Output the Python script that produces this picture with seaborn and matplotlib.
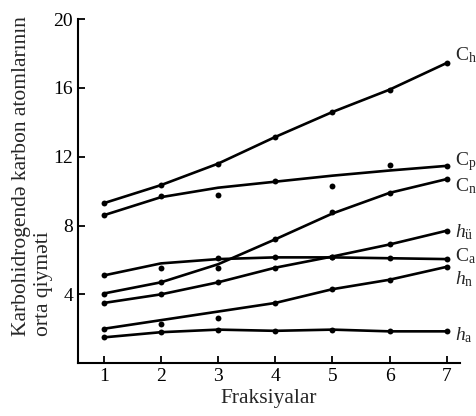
import numpy as np
import pandas as pd
import matplotlib
matplotlib.use("Agg")
import matplotlib.pyplot as plt
import seaborn as sns

# Data
fractions = [1, 2, 3, 4, 5, 6, 7]

# smoothed curves
ch_line = [9.3, 10.35, 11.6, 13.15, 14.6, 15.9, 17.45]
cp_line = [8.6, 9.65, 10.2, 10.55, 10.9, 11.2, 11.47]
cn_line = [4.05, 4.7, 5.75, 7.2, 8.7, 9.9, 10.7]
hu_line = [3.5, 4.0, 4.7, 5.55, 6.2, 6.9, 7.7]
ca_line = [5.1, 5.8, 6.05, 6.15, 6.15, 6.1, 6.05]
hn_line = [2.0, 2.5, 3.0, 3.5, 4.3, 4.85, 5.6]
ha_line = [1.5, 1.8, 1.95, 1.88, 1.95, 1.85, 1.85]

# measured points
ch_dots = [9.3, 10.35, 11.6, 13.15, 14.6, 15.9, 17.45]
cp_dots = [8.6, 9.7, 9.8, 10.6, 10.3, 11.5, 11.47]
cn_dots = [4.05, 4.74, 5.55, 7.2, 8.76, 9.9, 10.7]
hu_dots = [3.5, 4.0, 4.7, 5.55, 6.2, 6.9, 7.7]
ca_dots = [5.1, 5.55, 6.1, 6.15, 6.15, 6.1, 6.05]
hn_dots = [2.0, 2.3, 2.65, 3.5, 4.3, 4.85, 5.6]
ha_dots = [1.5, 1.8, 1.95, 1.88, 1.95, 1.85, 1.85]

names = ['C$_{\\mathrm{h}}$', 'C$_{\\mathrm{p}}$', 'C$_{\\mathrm{n}}$', '$h_{\\mathrm{ü}}$',
         'C$_{\\mathrm{a}}$', '$h_{\\mathrm{n}}$', '$h_{\\mathrm{a}}$']
lines = [ch_line, cp_line, cn_line, hu_line, ca_line, hn_line, ha_line]
dots = [ch_dots, cp_dots, cn_dots, hu_dots, ca_dots, hn_dots, ha_dots]

# label offsets in points (dx, dy) from the last point
label_offsets = [(6, 6), (6, 3), (6, -5), (6, -1), (6, 2), (6, -9), (6, -3)]

sns.set_style("ticks")
plt.rcParams['font.family'] = ['Liberation Serif', 'DejaVu Serif']
plt.rcParams['mathtext.fontset'] = 'custom'
plt.rcParams['mathtext.rm'] = 'Liberation Serif'
plt.rcParams['mathtext.it'] = 'Liberation Serif:italic'

fig = plt.figure(figsize=(4.76, 4.16), dpi=100)
ax = fig.add_axes([0.164, 0.127, 0.802, 0.827])

for name, ln, dt, off in zip(names, lines, dots, label_offsets):
    sns.lineplot(x=fractions, y=ln, color='black', linewidth=1.9, ax=ax)
    sns.scatterplot(x=fractions, y=dt, color='black', s=18, linewidth=0, ax=ax, zorder=3)
    ax.annotate(name, xy=(fractions[-1], ln[-1]), xytext=off, textcoords='offset points',
                fontsize=14, va='center', ha='left', annotation_clip=False)

ax.set_xlim(0.55, 7.23)
ax.set_ylim(0, 20)
ax.set_xticks(fractions)
ax.set_yticks([4, 8, 12, 16, 20])
ax.tick_params(direction='in', length=5, width=1.3, labelsize=14, colors='black')
for s in ['top', 'right']:
    ax.spines[s].set_visible(False)
for s in ['left', 'bottom']:
    ax.spines[s].set_linewidth(1.5)
    ax.spines[s].set_color('black')

ax.set_xlabel('Fraksiyalar', fontsize=15.5, labelpad=3)
ax.set_ylabel('Karbohidrogendə karbon atomlarının\norta qiyməti', fontsize=15.5,
              ha='left', y=0.08, linespacing=1.25, labelpad=0)
ax.yaxis.label.set_multialignment('left')

plt.savefig('out.png', dpi=100)
